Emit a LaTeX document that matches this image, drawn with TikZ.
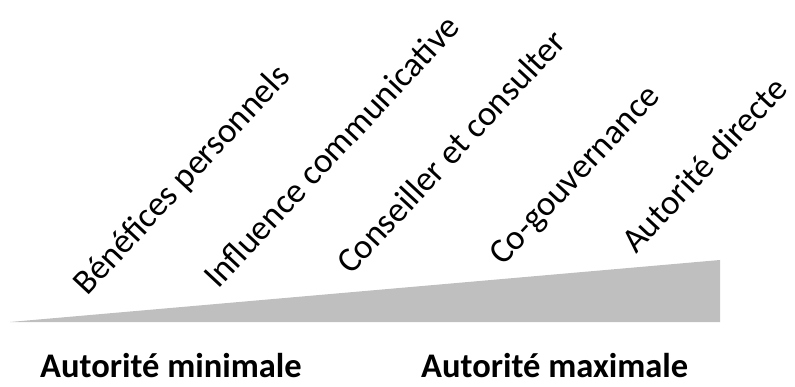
\documentclass[tikz,border=0pt]{standalone}
\usepackage{fontspec}
\setmainfont{Carlito}
\definecolor{wedgegray}{HTML}{BFBFBF}
\tikzset{
  lbl/.style={anchor=base west, rotate=47, inner sep=0pt, font=\fontsize{35}{40}\selectfont},
  axislbl/.style={anchor=base west, inner sep=0pt, font=\fontsize{34.5}{40}\selectfont\bfseries}
}
\begin{document}
\begin{tikzpicture}[x=1pt,y=-1pt]
\useasboundingbox (0,0) rectangle (795,387);
\coordinate (w1) at (10,322);
\coordinate (w2) at (720,322);
\coordinate (w3) at (720,260);
\fill[wedgegray] (w1) -- (w2) -- (w3) -- cycle;
\node[lbl] (l1) at (87,297) {Bénéfices personnels};
\node[lbl] (l2) at (218,290) {Influence communicative};
\node[lbl] (l3) at (351,276) {Conseiller et consulter};
\node[lbl] (l4) at (503,267) {Co-gouvernance};
\node[lbl] (l5) at (636,255) {Autorité directe};
\node[axislbl] (amin) at (40,377) {Autorité minimale};
\node[axislbl] (amax) at (421,377) {Autorité maximale};
\end{tikzpicture}
\end{document}
